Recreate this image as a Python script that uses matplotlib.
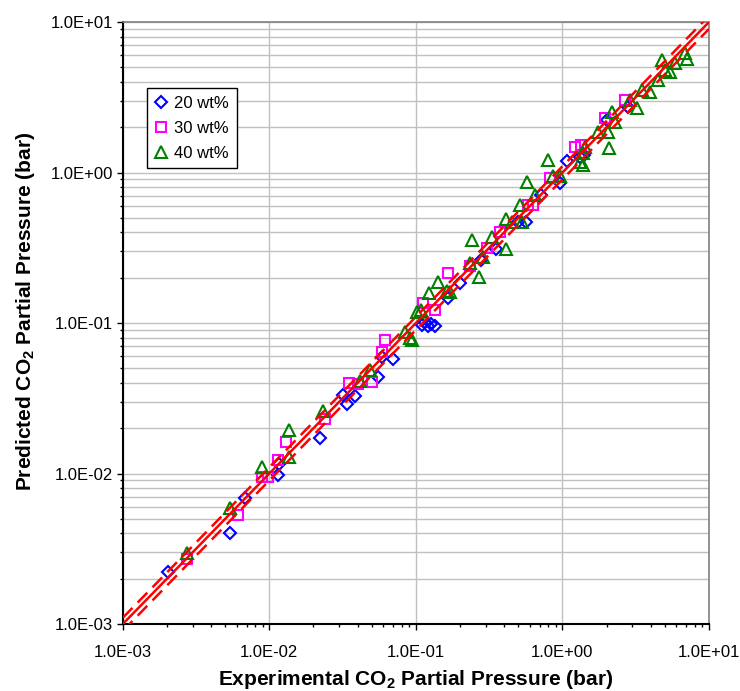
import numpy as np
import matplotlib
matplotlib.use("Agg")
import matplotlib.pyplot as plt
from matplotlib.ticker import LogLocator, FuncFormatter, NullFormatter

plt.rcParams['font.family'] = ['Liberation Sans', 'DejaVu Sans']
plt.rcParams['mathtext.fontset'] = 'custom'
plt.rcParams['mathtext.rm'] = 'Liberation Sans'
plt.rcParams['mathtext.bf'] = 'Liberation Sans:bold'

# 20 wt%
exp_20 = [0.00204, 0.00537, 0.0068, 0.0115, 0.0117, 0.0223, 0.0316, 0.0337, 0.0384,
          0.0553, 0.0583, 0.070, 0.110, 0.116, 0.121, 0.127, 0.134, 0.166, 0.200,
          0.28, 0.351, 0.50, 0.56, 0.72, 0.962, 1.07, 1.31, 1.40, 2.0, 2.81]
pred_20 = [0.00222, 0.0040, 0.00685, 0.0098, 0.0116, 0.0171, 0.0332, 0.0290, 0.0327,
           0.044, 0.0592, 0.0574, 0.097, 0.101, 0.096, 0.098, 0.095, 0.146, 0.185,
           0.262, 0.309, 0.47, 0.47, 0.708, 0.85, 1.195, 1.27, 1.30, 2.23, 2.74]

# 30 wt%
exp_30 = [0.00272, 0.00612, 0.00885, 0.0098, 0.0115, 0.0129, 0.0239, 0.0351, 0.0402,
          0.0499, 0.0583, 0.0614, 0.112, 0.135, 0.165, 0.234, 0.304, 0.374, 0.584,
          0.632, 0.82, 1.22, 1.35, 1.95, 2.67]
pred_30 = [0.00269, 0.0053, 0.0095, 0.0095, 0.0123, 0.0163, 0.0229, 0.0401, 0.0393,
           0.0407, 0.0645, 0.0771, 0.135, 0.122, 0.214, 0.239, 0.313, 0.404, 0.608,
           0.608, 0.914, 1.485, 1.52, 2.29, 3.03]

# 40 wt%
exp_40 = [0.00275, 0.00537, 0.00885, 0.01365, 0.01365, 0.0233, 0.0415, 0.0485, 0.0841,
          0.0910, 0.0935, 0.1016, 0.109, 0.123, 0.142, 0.162, 0.170, 0.240, 0.234,
          0.27, 0.285, 0.329, 0.411, 0.415, 0.45, 0.526, 0.513, 0.649, 0.575, 0.80,
          0.865, 0.962, 1.43, 1.39, 1.39, 1.31, 1.76, 2.05, 2.08, 2.17, 2.28, 2.89,
          3.21, 3.47, 3.96, 4.51, 4.75, 5.01, 5.42, 5.86, 6.86, 7.11]
pred_40 = [0.00295, 0.00587, 0.0111, 0.0128, 0.01945, 0.0261, 0.0414, 0.0487, 0.0875,
           0.0791, 0.0776, 0.1189, 0.122, 0.159, 0.188, 0.164, 0.162, 0.356, 0.249,
           0.201, 0.273, 0.374, 0.309, 0.489, 0.471, 0.471, 0.608, 0.708, 0.869, 1.21,
           0.948, 0.948, 1.485, 1.34, 1.12, 1.18, 1.87, 1.87, 1.45, 2.54, 2.17, 3.03,
           2.67, 3.53, 3.44, 4.12, 5.59, 4.8, 4.67, 5.31, 6.19, 5.65]

# parity line and +/-10 % band
axis_range = [1e-3, 1e1]
band_factors = [0.9, 1.1]

fig = plt.figure(figsize=(7.4, 6.91), dpi=100)
ax = fig.add_axes([0.166, 0.097, 0.792, 0.871])

ax.set_xscale('log')
ax.set_yscale('log')
ax.set_xlim(axis_range)
ax.set_ylim(axis_range)

ax.plot(exp_20, pred_20, linestyle='none', marker='D', ms=6, mfc='none',
        mec='#0000ff', mew=1.5, label='20 wt%', zorder=3)
ax.plot(exp_30, pred_30, linestyle='none', marker='s', ms=7.5, mfc='none',
        mec='#ff00ff', mew=1.5, label='30 wt%', zorder=3)
ax.plot(exp_40, pred_40, linestyle='none', marker='^', ms=8.5, mfc='none',
        mec='#008000', mew=1.5, label='40 wt%', zorder=3)

line_x = np.array(axis_range)
ax.plot(line_x, line_x, color='#ff0000', lw=1.8, zorder=4)
for f in band_factors:
    ax.plot(line_x, line_x * f, color='#ff0000', lw=1.8, dashes=(5.5, 3), zorder=4)

# grid: vertical at decades, horizontal at every tick
ax.xaxis.set_major_locator(LogLocator(base=10, numticks=10))
ax.yaxis.set_major_locator(LogLocator(base=10, numticks=10))
ax.xaxis.set_minor_locator(LogLocator(base=10, subs=np.arange(2, 10), numticks=20))
ax.yaxis.set_minor_locator(LogLocator(base=10, subs=np.arange(2, 10), numticks=20))
ax.xaxis.set_minor_formatter(NullFormatter())
ax.yaxis.set_minor_formatter(NullFormatter())
fmt = FuncFormatter(lambda v, p: f"{v:.1E}")
ax.xaxis.set_major_formatter(fmt)
ax.yaxis.set_major_formatter(fmt)

ax.grid(True, which='major', axis='both', color='#c0c0c0', lw=1.0)
ax.grid(True, which='minor', axis='y', color='#c0c0c0', lw=1.0)
ax.set_axisbelow(True)

ax.tick_params(which='major', direction='out', length=4, width=1, labelsize=12, pad=3)
ax.tick_params(which='minor', direction='out', length=2.5, width=1)
ax.tick_params(axis='x', which='major', pad=11)

for s in ['left', 'bottom']:
    ax.spines[s].set_color('black')
    ax.spines[s].set_linewidth(1.5)
for s in ['top', 'right']:
    ax.spines[s].set_color('#808080')
    ax.spines[s].set_linewidth(1.2)

ax.set_xlabel(r'Experimental CO$_\mathbf{2}$ Partial Pressure (bar)', fontsize=15,
              fontweight='bold', labelpad=6)
ax.set_ylabel(r'Predicted CO$_\mathbf{2}$ Partial Pressure (bar)', fontsize=15,
              fontweight='bold')
ax.yaxis.set_label_coords(-0.147, 0.52)

leg = ax.legend(loc='upper left', bbox_to_anchor=(0.041, 0.890), fontsize=12,
                frameon=True, fancybox=False, framealpha=1, edgecolor='black',
                handlelength=0.8, handletextpad=0.4, labelspacing=0.6,
                borderpad=0.45, borderaxespad=0)
leg.get_frame().set_linewidth(1.0)

fig.savefig('out.png', dpi=100)
